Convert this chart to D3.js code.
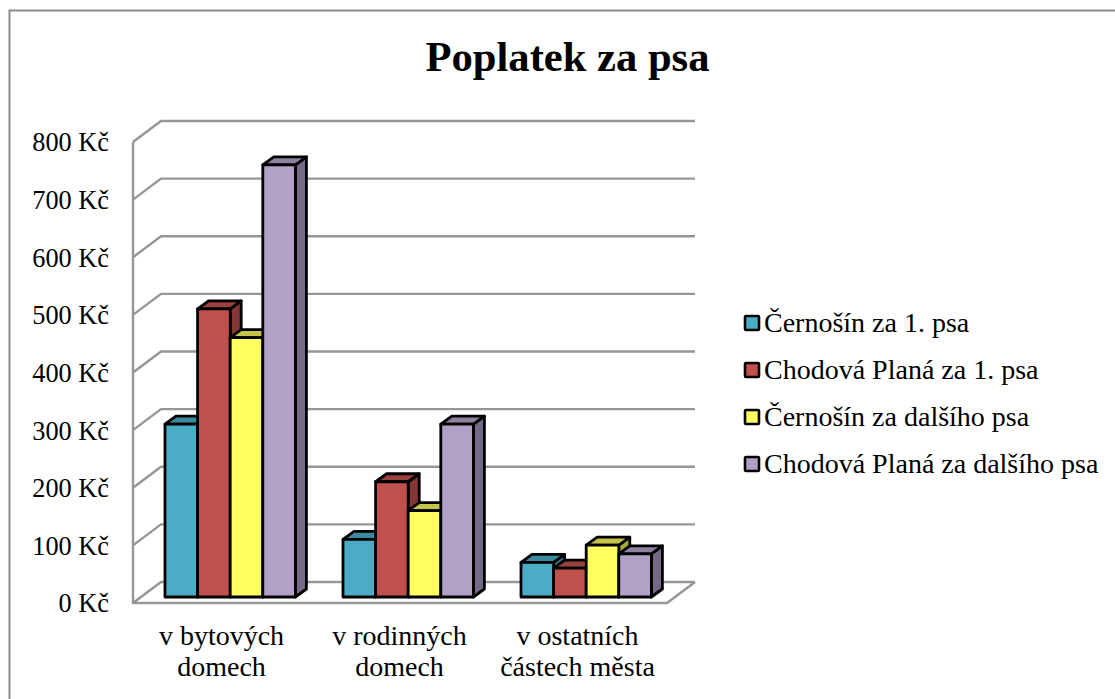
<!DOCTYPE html>
<html><head><meta charset="utf-8">
<script src="https://cdn.jsdelivr.net/npm/d3@7"></script>
<style>html,body{margin:0;padding:0;background:#fff}svg{display:block}text{font-family:"Liberation Serif",serif;fill:#000}</style>
</head><body><script>
const chartTitle = "Poplatek za psa";
const categories = ["v bytových domech","v rodinných domech","v ostatních částech města"];
const categoryLines = [["v bytových","domech"],["v rodinných","domech"],["v ostatních","částech města"]];
const seriesNames = ["Černošín za 1. psa","Chodová Planá za 1. psa","Černošín za dalšího psa","Chodová Planá za dalšího psa"];
const cernosin1 = [300,100,60];
const chodova1 = [500,200,50];
const cernosin2 = [450,150,90];
const chodova2 = [750,300,75];
const seriesValues = [cernosin1,chodova1,cernosin2,chodova2];
const yTicks = [0,100,200,300,400,500,600,700,800];
const frontColors = ["#4bacc6","#c0504d","#ffff5f","#b2a1c7"];
const topColors = ["#3c8aa0","#9a403e","#c4c44a","#8e81a0"];
const sideColors = ["#357a8e","#833634","#a8a83f","#746a86"];

const W=1115,H=699;
const svg=d3.select("body").append("svg").attr("width",W).attr("height",H);
svg.append("rect").attr("x",9.5).attr("y",10.5).attr("width",1110).attr("height",700).attr("fill","#fff").attr("stroke","#8c8c8c").attr("stroke-width",2);
svg.append("text").attr("x",567.5).attr("y",71).attr("text-anchor","middle").attr("font-size",42.6).attr("font-weight","bold").text(chartTitle);

const y=d3.scaleLinear().domain([0,800]).range([603,142]);
const x=d3.scaleBand().domain(categories).range([133,667]);
const wallDx=28,wallDy=-21,wallRight=667;
const grid="#969696";
const g=svg.append("g").attr("fill","none").attr("stroke",grid).attr("stroke-width",2.4);
yTicks.forEach(t=>{
  g.append("path").attr("d",d3.line()([[x.range()[0],y(t)],[x.range()[0]+wallDx,y(t)+wallDy],[wallRight+wallDx,y(t)+wallDy]]));
});
g.append("path").attr("d",d3.line()([[133,y(800)],[133,y(0)],[wallRight,y(0)],[wallRight+wallDx,y(0)+wallDy]]));

const ya=d3.axisLeft(y).tickValues(yTicks).tickFormat(d=>d+" Kč").tickSize(0).tickPadding(23);
const yg=svg.append("g").attr("transform","translate(132,0)").call(ya);
yg.select(".domain").remove();
yg.selectAll("text").attr("font-size",26.3).attr("font-family","Liberation Serif").attr("dy","0.34em");

const barW=32.6,groupOffset=32,baseDy=-6,depthX=11,depthY=-8;
const bars=svg.append("g").attr("stroke","#000").attr("stroke-width",2.8).attr("stroke-linejoin","round");
categories.forEach((c,ci)=>{
  seriesValues.forEach((vals,si)=>{
    const x0=x(c)+groupOffset+si*barW, x1=x0+barW;
    const yb=y(0)+baseDy, yt=y(vals[ci])+baseDy;
    bars.append("path").attr("fill",sideColors[si]).attr("d",d3.line()([[x1,yt],[x1+depthX,yt+depthY],[x1+depthX,yb+depthY],[x1,yb]])+"Z");
    bars.append("path").attr("fill",topColors[si]).attr("d",d3.line()([[x0,yt],[x0+depthX,yt+depthY],[x1+depthX,yt+depthY],[x1,yt]])+"Z");
    bars.append("rect").attr("x",x0).attr("y",yt).attr("width",barW).attr("height",yb-yt).attr("fill",frontColors[si]);
  });
});

const labels=svg.append("g").attr("text-anchor","middle").attr("font-size",28);
categories.forEach((c,ci)=>{
  const t=labels.append("text");
  categoryLines[ci].forEach((l,i)=>t.append("tspan").attr("x",x(c)+x.bandwidth()/2-0.5).attr("y",645+i*31).text(l));
});

const ly=d3.scalePoint().domain(seriesNames).range([323,464]);
const lg=svg.append("g");
seriesNames.forEach((n,i)=>{
  lg.append("rect").attr("x",745).attr("y",ly(n)-7).attr("width",14).attr("height",14).attr("fill",frontColors[i]).attr("stroke","#000").attr("stroke-width",2.6).attr("rx",1);
  lg.append("text").attr("x",764).attr("y",ly(n)+9).attr("font-size",28).text(n);
});
</script></body></html>
